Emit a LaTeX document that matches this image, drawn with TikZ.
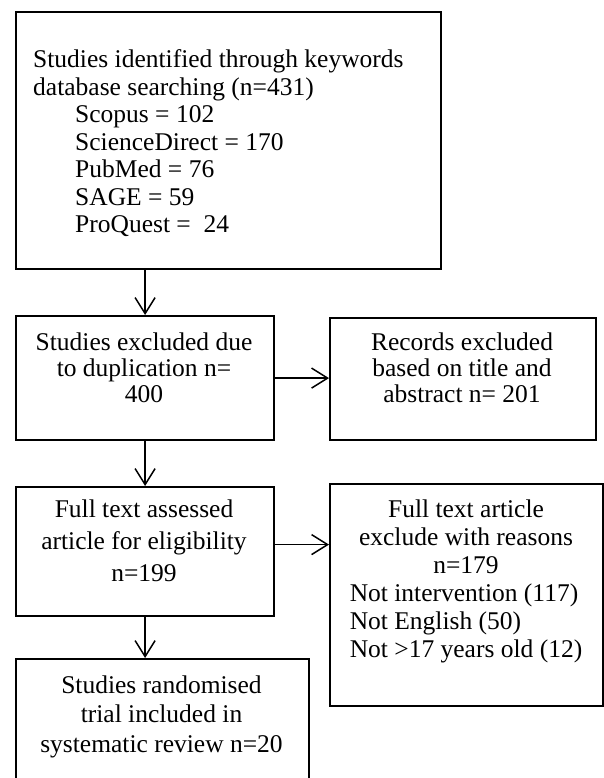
\documentclass[tikz,border=0pt]{standalone}
\usepackage{fontspec}
\setmainfont{Liberation Serif}
\usetikzlibrary{arrows.meta,calc}
\begin{document}
\begin{tikzpicture}[x=1pt,y=-1pt,
  box/.style={draw, line width=2.2pt, inner sep=0pt, anchor=north west},
  txt/.style={inner sep=0pt, anchor=base},
  arr/.style={line width=1.5pt, -{Straight Barb[length=16pt,width=20pt,line width=1.5pt]}}]
\useasboundingbox (0,0) rectangle (604,778);
\clip (0,0) rectangle (604,778);
\fill[white] (0,0) rectangle (604,778);
% boxes
\node[box, minimum width=425pt, minimum height=257pt] (b1) at (15,11) {};
\node[box, minimum width=258pt, minimum height=124pt] (b2) at (15,315) {};
\node[box, minimum width=266pt, minimum height=122pt] (b3) at (329,317) {};
\node[box, minimum width=258pt, minimum height=129pt] (b4) at (15,486) {};
\node[box, minimum width=273pt, minimum height=222pt] (b5) at (329,483) {};
\node[box, minimum width=293pt, minimum height=140pt] (b6) at (15,658) {};
% texts
\node[txt, anchor=base west, font=\fontsize{25.5}{27.5}\selectfont] (t1) at (33,68)
  {\begin{tabular}[t]{@{}l@{}}Studies identified through keywords\\
   database searching (n=431)\\
   \hspace*{42pt}Scopus = 102\\
   \hspace*{42pt}ScienceDirect = 170\\
   \hspace*{42pt}PubMed = 76\\
   \hspace*{42pt}SAGE = 59\\
   \hspace*{42pt}ProQuest =~~24\end{tabular}};
\node[txt, font=\fontsize{25.5}{26}\selectfont] (t2) at (144,350)
  {\begin{tabular}[t]{@{}c@{}}Studies excluded due\\ to duplication n=\\ 400\end{tabular}};
\node[txt, font=\fontsize{25.5}{26}\selectfont] (t3) at (462,350)
  {\begin{tabular}[t]{@{}c@{}}Records excluded\\ based on title and\\ abstract n= 201\end{tabular}};
\node[txt, font=\fontsize{25.5}{32}\selectfont] (t4) at (144,517)
  {\begin{tabular}[t]{@{}c@{}}Full text assessed\\ article for eligibility\\ n=199\end{tabular}};
\node[txt, font=\fontsize{25.5}{28}\selectfont] (t5) at (466,517)
  {\begin{tabular}[t]{@{}l@{}}\multicolumn{1}{@{}c@{}}{Full text article}\\
   \multicolumn{1}{@{}c@{}}{exclude with reasons}\\
   \multicolumn{1}{@{}c@{}}{n=179}\\
   Not intervention (117)\\ Not English (50)\\ Not >17 years old (12)\end{tabular}};
\node[txt, font=\fontsize{25.5}{29.5}\selectfont] (t6) at (161.5,693)
  {\begin{tabular}[t]{@{}c@{}}Studies randomised\\ trial included in\\ systematic review n=20\end{tabular}};
% connectors
\draw[arr] (b2.north |- b1.south) -- (b2.north);
\draw[arr] (b2.east) -- (b2.east -| b3.west);
\draw[arr] (b2.south) -- (b4.north);
\draw[arr] ([yshift=7pt]b4.east) -- ([yshift=7pt]b4.east -| b5.west);
\draw[arr] (b4.south) -- (b4.south |- b6.north);
\end{tikzpicture}
\end{document}
